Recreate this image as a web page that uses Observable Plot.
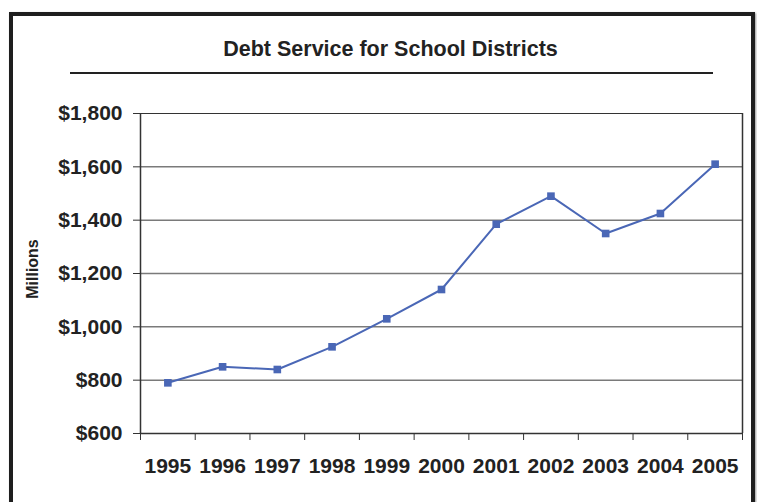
<!DOCTYPE html>
<html><head><meta charset="utf-8">
<script src="https://cdn.jsdelivr.net/npm/d3@7"></script>
<script src="https://cdn.jsdelivr.net/npm/@observablehq/plot@0.6"></script>
<style>
body{margin:0;background:#fff;font-family:"Liberation Sans",Arial,sans-serif;}
#wrap{position:relative;width:757px;height:502px;overflow:hidden;}
#frame{position:absolute;left:9px;top:12px;width:738px;height:520px;border:4px solid #1e1e1e;box-shadow:1px 1px 2px #999;}
#title{position:absolute;left:0;width:781px;top:37px;text-align:center;font-weight:bold;font-size:21.5px;color:#222;}
#rule{position:absolute;left:70px;top:72px;width:643px;height:2px;background:#222;}
#ylab{position:absolute;left:33px;top:269px;transform:translate(-50%,-50%) rotate(-90deg);font-weight:bold;font-size:16px;color:#222;white-space:nowrap;}
#chart{position:absolute;left:0;top:95px;}
</style></head><body>
<div id="wrap">
<div id="frame"></div>
<div id="title">Debt Service for School Districts</div>
<div id="rule"></div>
<div id="ylab">Millions</div>
<div id="chart"></div>
</div>
<script>
const years = [1995,1996,1997,1998,1999,2000,2001,2002,2003,2004,2005];
const debt = [790,850,840,925,1030,1140,1385,1490,1350,1425,1610];
const yTicks = [600,800,1000,1200,1400,1600,1800];
const data = years.map((y,i)=>({year:y, value:debt[i]}));
const bounds = years.map(y=>y-0.5).concat([years[years.length-1]+0.5]);

const plot = Plot.plot({
  width: 757, height: 407,
  marginLeft: 140, marginRight: 15, marginTop: 18, marginBottom: 69,
  style: {fontFamily:"'Liberation Sans', Arial, sans-serif", fontSize:"21px", fontWeight:"bold", color:"#222", background:"transparent"},
  x: {type:"linear", domain:[bounds[0], bounds[bounds.length-1]]},
  y: {domain:[600,1800]},
  marks: [
    Plot.ruleY(yTicks.slice(1,-1), {stroke:"#7a7a7a", strokeWidth:1.5}),
    Plot.ruleY([1800], {stroke:"#333", strokeWidth:1.2}),
    Plot.ruleX([bounds[bounds.length-1]], {stroke:"#333", strokeWidth:1.5}),
    Plot.axisY({ticks:yTicks, tickSize:7, tickPadding:11, tickFormat:d=>"$"+d3.format(",")(d), label:null, stroke:"#333", fontSize:21}),
    Plot.axisX({ticks:bounds, tickSize:7, tickFormat:()=>"", label:null, stroke:"#333"}),
    Plot.axisX({ticks:years, tickSize:0, tickPadding:25, tickFormat:d=>String(d), label:null, fontSize:21}),
    Plot.ruleX([bounds[0]], {stroke:"#333", strokeWidth:1.5}),
    Plot.ruleY([600], {stroke:"#333", strokeWidth:1.5}),
    Plot.line(data, {x:"year", y:"value", stroke:"#4a67b6", strokeWidth:2}),
    Plot.dot(data, {x:"year", y:"value", symbol:"square", r:4.3, fill:"#4a67b6", stroke:"none"})
  ]
});
document.getElementById("chart").appendChild(plot);
</script>
</body></html>
